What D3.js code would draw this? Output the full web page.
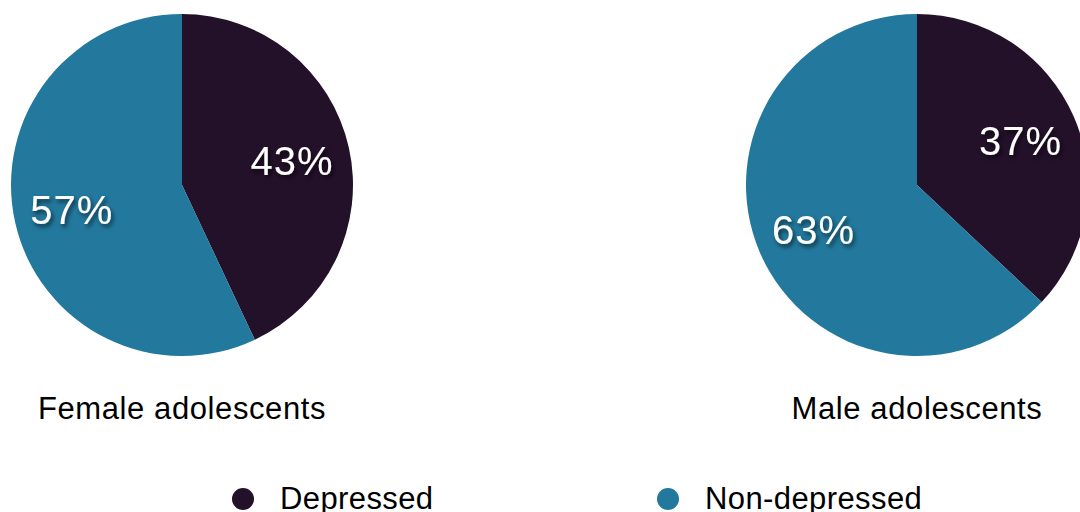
<!DOCTYPE html>
<html>
<head>
<meta charset="utf-8">
<script src="https://cdn.jsdelivr.net/npm/d3@7"></script>
<style>
  body { margin: 0; background: #fff; }
  text { font-family: "Liberation Sans", Arial, sans-serif; }
</style>
</head>
<body>
<svg id="chart" width="1080" height="512"></svg>
<script>
const groups = ["Female adolescents", "Male adolescents"];
const categories = ["Depressed", "Non-depressed"];
const female = [43, 57];
const male = [37, 63];
const colors = ["#231029", "#22789d"];

const w = 1080, h = 512;
const svg = d3.select("#chart");

const defs = svg.append("defs");
const f = defs.append("filter").attr("id", "shadow")
  .attr("x", "-20%").attr("y", "-20%").attr("width", "140%").attr("height", "140%");
f.append("feDropShadow").attr("dx", 2).attr("dy", 3).attr("stdDeviation", 2)
  .attr("flood-color", "#000").attr("flood-opacity", 0.6);

const color = d3.scaleOrdinal().domain(categories).range(colors);
const r = 171;
const centers = d3.scalePoint().domain(groups).range([182, 917]);

const pie = d3.pie().sort(null).value(d => d.v);
const arc = d3.arc().innerRadius(0).outerRadius(r);
const labelArc = d3.arc().innerRadius(r * 0.66).outerRadius(r * 0.66);

[female, male].forEach((vals, gi) => {
  const data = categories.map((c, i) => ({ c, v: vals[i] }));
  const g = svg.append("g").attr("transform", `translate(${centers(groups[gi])},185)`);
  const slices = pie(data);
  g.selectAll("path").data(slices).enter().append("path")
    .attr("d", arc).attr("fill", d => color(d.data.c));
  g.selectAll("text.lbl").data(slices).enter().append("text")
    .attr("class", "lbl")
    .attr("transform", d => `translate(${labelArc.centroid(d)})`)
    .attr("text-anchor", "middle").attr("dy", "0.36em")
    .attr("fill", "#fff").attr("font-size", 40).attr("letter-spacing", 1)
    .attr("filter", "url(#shadow)")
    .text(d => d.data.v + "%");
  svg.append("text")
    .attr("x", centers(groups[gi])).attr("y", 419)
    .attr("text-anchor", "middle").attr("font-size", 31).attr("letter-spacing", 0.6)
    .attr("fill", "#000")
    .text(groups[gi]);
});

const legendX = d3.scalePoint().domain(categories).range([243, 668]);
const lg = svg.selectAll("g.leg").data(categories).enter().append("g")
  .attr("class", "leg").attr("transform", d => `translate(${legendX(d)},499)`);
lg.append("circle").attr("r", 11).attr("fill", d => color(d));
lg.append("text").attr("x", 37).attr("y", 10).attr("font-size", 31).attr("letter-spacing", 0.4)
  .attr("fill", "#000").text(d => d);
</script>
</body>
</html>
